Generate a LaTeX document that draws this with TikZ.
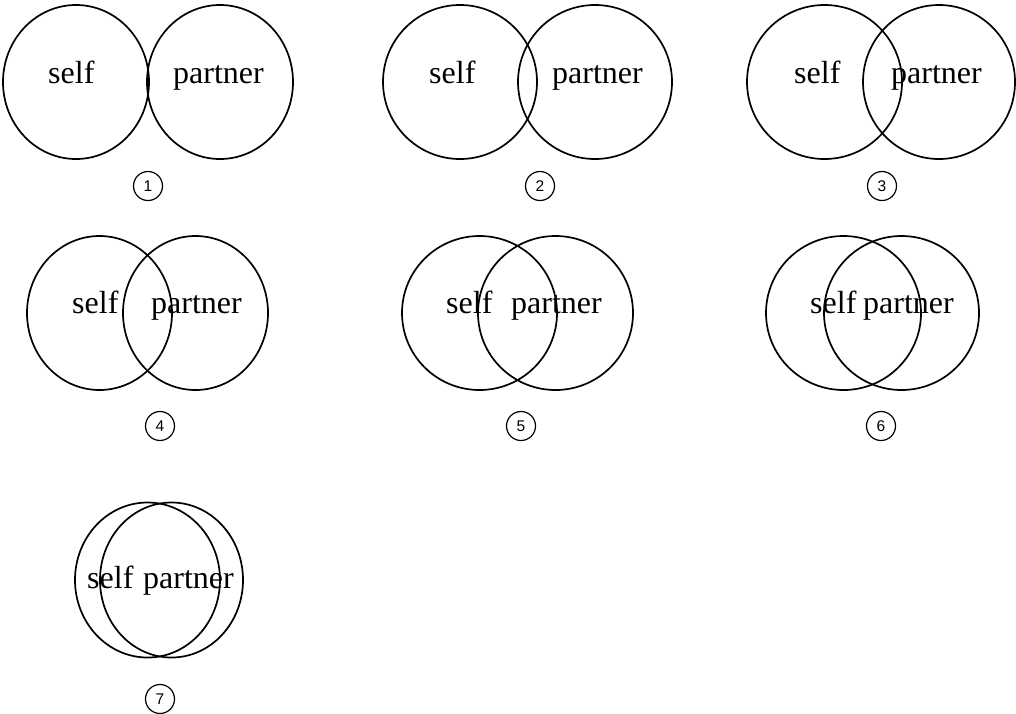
\documentclass[tikz,border=0pt]{standalone}
\usepackage{fontspec}
\setmainfont{Liberation Serif}
\setsansfont{Liberation Sans}
\usetikzlibrary{shapes.geometric}
\tikzset{
  ring/.style={ellipse, draw, line width=1.7pt, inner sep=0pt, outer sep=0pt},
  lbl/.style={anchor=base west, inner sep=0pt, font=\fontsize{32}{38}\selectfont},
  num/.style={circle, draw, line width=1.2pt, minimum size=29pt, inner sep=0pt, font=\sffamily\fontsize{15.5}{18}\selectfont}
}
\begin{document}
\begin{tikzpicture}[x=1pt,y=-1pt]
\useasboundingbox (0,0) rectangle (1016,713);
% panel 1
\node[ring, minimum width=146pt, minimum height=154pt] (l1) at (76,82) {};
\node[ring, minimum width=146pt, minimum height=154pt] (r1) at (220,82) {};
\node[lbl] (s1) at (48,83) {self};
\node[lbl] (p1) at (173,83) {partner};
\node[num] (n1) at (148,186) {1};
% panel 2
\node[ring, minimum width=154pt, minimum height=154pt] (l2) at (460,82) {};
\node[ring, minimum width=154pt, minimum height=154pt] (r2) at (595,82) {};
\node[lbl] (s2) at (429,83) {self};
\node[lbl] (p2) at (552,83) {partner};
\node[num] (n2) at (540,186) {2};
% panel 3
\node[ring, minimum width=155pt, minimum height=154pt] (l3) at (824.5,82) {};
\node[ring, minimum width=152pt, minimum height=154pt] (r3) at (939,82) {};
\node[lbl] (s3) at (794,83) {self};
\node[lbl] (p3) at (891,83) {partner};
\node[num] (n3) at (882,186) {3};
% panel 4
\node[ring, minimum width=145pt, minimum height=154pt] (l4) at (99.5,313) {};
\node[ring, minimum width=145pt, minimum height=154pt] (r4) at (195.5,313) {};
\node[lbl] (s4) at (72,313) {self};
\node[lbl] (p4) at (151,313) {partner};
\node[num] (n4) at (160,426) {4};
% panel 5
\node[ring, minimum width=155pt, minimum height=154pt] (l5) at (479.5,313) {};
\node[ring, minimum width=155pt, minimum height=154pt] (r5) at (555.5,313) {};
\node[lbl] (s5) at (446,313) {self};
\node[lbl] (p5) at (511,313) {partner};
\node[num] (n5) at (521,426) {5};
% panel 6
\node[ring, minimum width=155pt, minimum height=154pt] (l6) at (843.5,313) {};
\node[ring, minimum width=155pt, minimum height=154pt] (r6) at (901.5,313) {};
\node[lbl] (s6) at (810,313) {self};
\node[lbl] (p6) at (863,313) {partner};
\node[num] (n6) at (881,426) {6};
% panel 7
\node[ring, minimum width=145pt, minimum height=155pt] (l7) at (147.5,580) {};
\node[ring, minimum width=143pt, minimum height=155pt] (r7) at (171.5,580) {};
\node[lbl] (s7) at (87,588) {self};
\node[lbl] (p7) at (143,588) {partner};
\node[num] (n7) at (160,699) {7};
\end{tikzpicture}
\end{document}
